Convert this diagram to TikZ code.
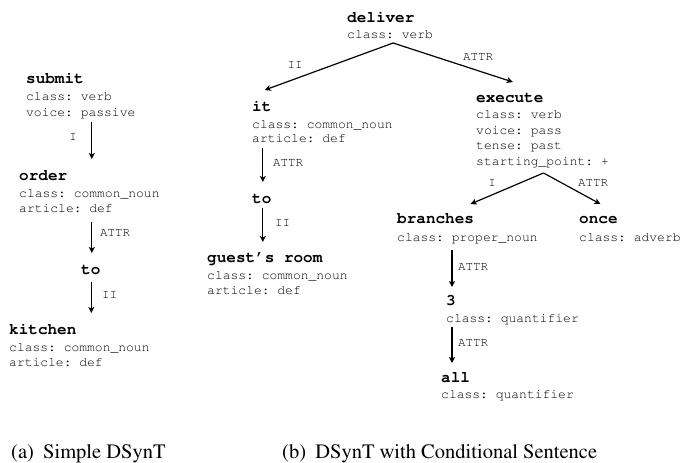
\documentclass[tikz,border=0pt]{standalone}
\usepackage[T1]{fontenc}
\usepackage{mathptmx}
\usepackage{courier}
\usetikzlibrary{arrows.meta,calc}
\begin{document}
\frenchspacing
\begin{tikzpicture}[x=1pt,y=-1pt,
  ttl/.style={anchor=base west, inner sep=0pt, font=\fontsize{16}{16}\selectfont\ttfamily\bfseries\frenchspacing},
  att/.style={anchor=base west, inner sep=0pt, font=\fontsize{13}{13}\selectfont\ttfamily\frenchspacing},
  lbl/.style={inner sep=0pt, font=\fontsize{12.5}{12.5}\selectfont\ttfamily},
  capt/.style={anchor=base west, inner sep=0pt, font=\fontsize{20.5}{20.5}\selectfont\rmfamily},
  arr/.style={line width=1.2pt, -{Stealth[length=6pt,width=6pt,inset=1.5pt]}}]
\useasboundingbox (0,0) rectangle (681,463);
% ---------- (a) ----------
\node[ttl] (submit) at (26,83) {submit};
\node[att] (submitc) at (26,100) {class: verb};
\node[att] (submitv) at (26,116) {voice: passive};
\node[ttl] (order) at (19,180) {order};
\node[att] (orderc) at (19,197) {class: common\_noun};
\node[att] (ordera) at (19,212) {article: def};
\node[ttl] (toa) at (81,274) {to};
\node[ttl] (kitchen) at (9,334) {kitchen};
\node[att] (kitchenc) at (9,351) {class: common\_noun};
\node[att] (kitchena) at (9,366) {article: def};
\draw[arr] ($(submitv.base -| toa)+(1,6)$) -- ($(order.base -| toa)+(1,-21)$);
\draw[arr] ($(ordera.base -| toa)+(1,10)$) -- ($(toa.base)+(1,-21)$);
\draw[arr] ($(toa.base)+(0.5,8)$) -- ($(kitchen.base -| toa)+(0.5,-21)$);
\node[lbl] (la1) at (73,137) {I};
\node[lbl,anchor=west] (la2) at (100,233) {ATTR};
\node[lbl,anchor=west] (la3) at (102,295) {II};
% ---------- (b) ----------
\node[ttl] (deliver) at (347,22) {deliver};
\node[att] (deliverc) at (347,38) {class: verb};
\node[ttl] (it) at (252,111) {it};
\node[att] (itc) at (252,128) {class: common\_noun};
\node[att] (ita) at (252,142) {article: def};
\node[ttl] (tob) at (252,203) {to};
\node[ttl] (guest) at (207,262) {guest's room};
\node[att] (guestc) at (207,279) {class: common\_noun};
\node[att] (guesta) at (207,294) {article: def};
\node[ttl] (execute) at (476,102) {execute};
\node[att] (executec) at (476,118.5) {class: verb};
\node[att] (executev) at (476,134) {voice: pass};
\node[att] (executet) at (476,149.5) {tense: past};
\node[att] (executes) at (476,165) {starting\_point: +};
\node[ttl] (branches) at (397,223) {branches};
\node[att] (branchesc) at (397,241) {class: proper\_noun};
\node[ttl] (once) at (579,223) {once};
\node[att] (oncec) at (579,241) {class: adverb};
\node[ttl] (three) at (446,305) {3};
\node[att] (threec) at (446,322) {class: quantifier};
\node[ttl] (all) at (441,382) {all};
\node[att] (allc) at (441,398) {class: quantifier};
\coordinate (apex1) at ($(deliverc.base)+(3,5)$);
\coordinate (apex2) at ($(executes.base)+(1,8)$);
\draw[arr] (apex1) -- ($(it.base)+(3,-21)$);
\draw[arr] (apex1) -- ($(execute.base)+(3,-20)$);
\draw[arr] ($(ita.base -| tob)+(1,6)$) -- ($(tob.base)+(1,-21)$);
\draw[arr] ($(tob.base)+(1,5)$) -- ($(guest.base -| tob)+(1,-20)$);
\draw[arr] (apex2) -- ($(branches.base)+(35,-19)$);
\draw[arr] (apex2) -- ($(once.base)+(2,-19)$);
\draw[arr] ($(branchesc.base -| three)+(1,9)$) -- ($(three.base)+(1,-18)$);
\draw[arr] ($(threec.base -| three)+(1,5)$) -- ($(all.base -| three)+(1,-19)$);
\node[lbl] (lb1) at (295,65) {II};
\node[lbl] (lb2) at (478,57) {ATTR};
\node[lbl,anchor=west] (lb3) at (273,163) {ATTR};
\node[lbl,anchor=west] (lb4) at (275,223) {II};
\node[lbl] (lb5) at (492,183) {I};
\node[lbl] (lb6) at (593,183) {ATTR};
\node[lbl,anchor=west] (lb7) at (458,267) {ATTR};
\node[lbl,anchor=west] (lb8) at (458,343) {ATTR};
% ---------- captions ----------
\node[capt] (capa) at (11,458) {(a)\hspace{0.45em}Simple DSynT};
\node[capt] (capb) at (282,458) {(b)\hspace{0.45em}DSynT with Conditional Sentence};
\end{tikzpicture}
\end{document}
